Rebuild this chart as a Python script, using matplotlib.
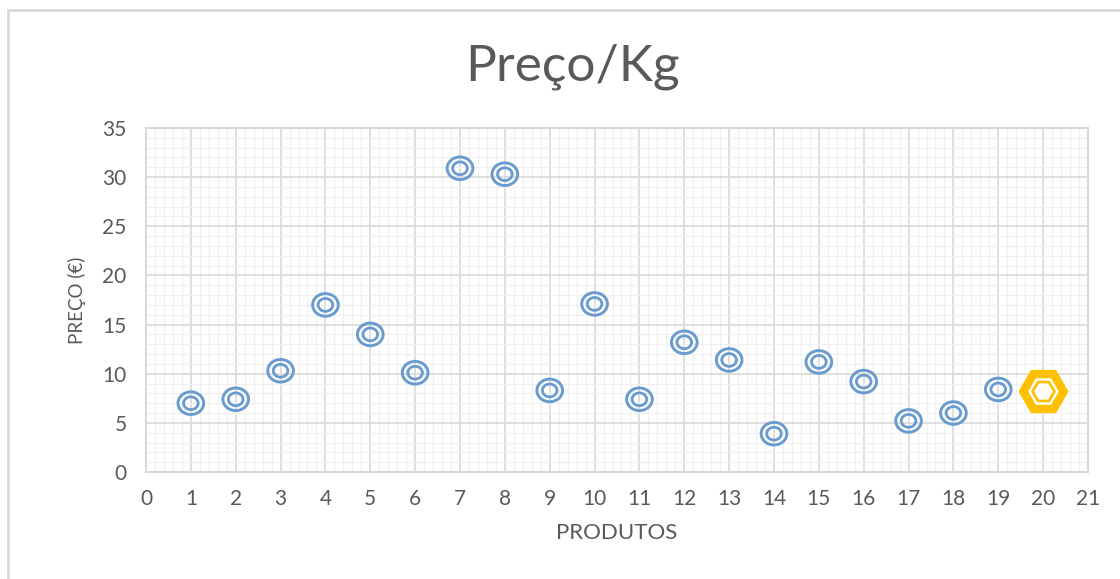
import numpy as np
import matplotlib.pyplot as plt
from matplotlib.patches import Rectangle
from matplotlib.path import Path
from matplotlib.ticker import MultipleLocator

plt.rcParams['font.family'] = ['Lato', 'DejaVu Sans']

# dados
produtos = [1, 2, 3, 4, 5, 6, 7, 8, 9, 10, 11, 12, 13, 14, 15, 16, 17, 18, 19]
precos = [7.0, 7.4, 10.3, 17.0, 14.0, 10.1, 30.9, 30.3, 8.3, 17.1,
          7.4, 13.2, 11.4, 3.9, 11.2, 9.2, 5.2, 6.0, 8.4]
destaque_x = [20]
destaque_y = [8.2]

azul = '#6A9BCF'
dourado = '#FFC000'
cinza_txt = '#595959'

# marcador ligeiramente achatado (como no original)
circ = Path.unit_circle()
elipse = Path(circ.vertices * [1.0, 0.88], circ.codes)

fig = plt.figure(figsize=(11.2, 5.79), dpi=100)
fig.patches.append(Rectangle((8 / 1120, -0.1), 1.2, 1 - 10 / 579 + 0.1,
                             transform=fig.transFigure, fill=False,
                             edgecolor='#D9D9D9', linewidth=2))

ax = fig.add_axes([146 / 1120, 1 - 472 / 579, (1088 - 146) / 1120, (472 - 128) / 579])

# pontos azuis: dois circulos concentricos
ax.scatter(produtos, precos, s=18.5**2, marker=elipse, facecolors='none',
           edgecolors=azul, linewidths=2.1, zorder=3)
ax.scatter(produtos, precos, s=10.5**2, marker=elipse, facecolors='none',
           edgecolors=azul, linewidths=2.0, zorder=3)

# ponto em destaque: hexagono
ax.scatter(destaque_x, destaque_y, s=36**2, marker='H', color=dourado, linewidths=0, zorder=3)
ax.scatter(destaque_x, destaque_y, s=22**2, marker='H', color='white', linewidths=0, zorder=4)
ax.scatter(destaque_x, destaque_y, s=18**2, marker='H', color=dourado, linewidths=0, zorder=4)
ax.scatter(destaque_x, destaque_y, s=13.5**2, marker='H', color='white', linewidths=0, zorder=4)

ax.set_xlim(0, 21)
ax.set_ylim(0, 35)
ax.xaxis.set_major_locator(MultipleLocator(1))
ax.xaxis.set_minor_locator(MultipleLocator(0.2))
ax.yaxis.set_major_locator(MultipleLocator(5))
ax.yaxis.set_minor_locator(MultipleLocator(1))
ax.grid(which='major', color='#D9D9D9', linewidth=1.2)
ax.grid(which='minor', color='#F0F0F0', linewidth=0.9)
ax.set_axisbelow(True)
for s in ax.spines.values():
    s.set_color('#D9D9D9')
    s.set_linewidth(1.5)
ax.tick_params(which='both', length=0, labelsize=15, labelcolor=cinza_txt)
ax.tick_params(axis='x', pad=12)
ax.tick_params(axis='y', pad=14)

ax.set_xlabel('PRODUTOS', fontsize=16, color=cinza_txt, labelpad=10)
ax.set_ylabel('PREÇO (€)', fontsize=13.5, color=cinza_txt, labelpad=12)
fig.text(0.511, 1 - 67 / 579, 'Preço/Kg', fontsize=37, color=cinza_txt,
         ha='center', va='center')

fig.savefig('out.png', dpi=100)
